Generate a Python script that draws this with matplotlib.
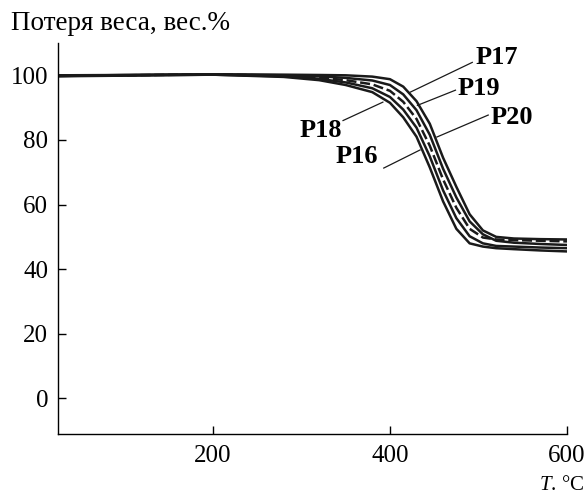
import matplotlib
matplotlib.use('Agg')
import matplotlib.pyplot as plt

plt.rcParams['font.family'] = ['Liberation Serif', 'DejaVu Serif']
plt.rcParams['mathtext.fontset'] = 'custom'
plt.rcParams['mathtext.it'] = 'Liberation Serif:italic'
plt.rcParams['mathtext.rm'] = 'Liberation Serif'

# температура, °C
temps = [25, 100, 200, 280, 320, 350, 380, 400, 415, 430, 445, 460, 475, 490, 505, 520, 540, 570, 600]

# потеря веса, вес.%
p18 = [99.7, 99.9, 100.2, 99.5, 98.5, 97.0, 94.8, 91.5, 87.0, 81.0, 71.5, 61.0, 52.5, 48.0, 47.0, 46.5, 46.2, 45.8, 45.5]
p16 = [99.8, 100.0, 100.2, 99.7, 98.9, 97.8, 96.0, 93.3, 89.4, 83.8, 74.9, 64.4, 55.8, 50.2, 48.0, 47.2, 47.0, 46.7, 46.5]
p20 = [99.9, 100.0, 100.3, 99.85, 99.3, 98.5, 97.2, 95.2, 91.8, 86.5, 78.2, 67.8, 59.0, 52.5, 49.8, 49.2, 49.0, 48.8, 48.6]
p19 = [99.8, 100.1, 100.3, 100.0, 99.7, 99.2, 98.4, 97.0, 94.1, 89.2, 81.6, 71.1, 62.2, 54.8, 50.8, 48.8, 48.2, 47.8, 47.5]
p17 = [100.0, 100.1, 100.3, 100.2, 100.1, 100.0, 99.6, 98.8, 96.5, 92.0, 85.0, 74.5, 65.5, 57.0, 52.0, 50.0, 49.5, 49.3, 49.2]

series = [('P18', p18, '-'), ('P16', p16, '-'), ('P20', p20, (0, (4, 1.5))),
          ('P19', p19, '-'), ('P17', p17, '-')]

# подписи: текст (x, y), линия-выноска от (x, y) до (x, y)
labels = {
    'P17': ((521, 105.5), (493, 104), (423, 94.8)),
    'P19': ((500, 96), (474, 95.4), (431, 90.7)),
    'P18': ((322, 83), (347, 86), (392, 91.7)),
    'P20': ((538, 87), (511, 87.7), (453, 80.9)),
    'P16': ((363, 75), (393, 71.3), (434, 76.9)),
}

fig = plt.figure(figsize=(5.88, 4.96), dpi=100)
ax = fig.add_axes([58 / 588, 1 - 434 / 496, (567 - 58) / 588, (434 - 43) / 496])

for name, vals, ls in series:
    ax.plot(temps, vals, color='#1a1a1a', lw=1.8, ls=ls, solid_joinstyle='round')

for name, (txt, p0, p1) in labels.items():
    ax.plot([p0[0], p1[0]], [p0[1], p1[1]], color='#1a1a1a', lw=0.9)
    ax.text(txt[0], txt[1], name, ha='center', va='center', fontsize=19, fontweight='bold')

ax.set_xlim(25, 600)
ax.set_ylim(-11, 110)
ax.set_xticks([200, 400, 600])
ax.set_yticks([0, 20, 40, 60, 80, 100])
ax.tick_params(direction='in', length=6, width=1, labelsize=18)
ax.tick_params(axis='y', pad=7)
ax.tick_params(axis='x', pad=8)
ax.spines['top'].set_visible(False)
ax.spines['right'].set_visible(False)
for s in ('left', 'bottom'):
    ax.spines[s].set_linewidth(1)

fig.text(11 / 588, 1 - 30 / 496, 'Потеря веса, вес.%', ha='left', va='baseline', fontsize=19.5)
fig.text(584 / 588, 1 - 490 / 496, r'$T$. °C', ha='right', va='baseline', fontsize=15)

plt.savefig('out.png', dpi=100, facecolor='white')
plt.close()
